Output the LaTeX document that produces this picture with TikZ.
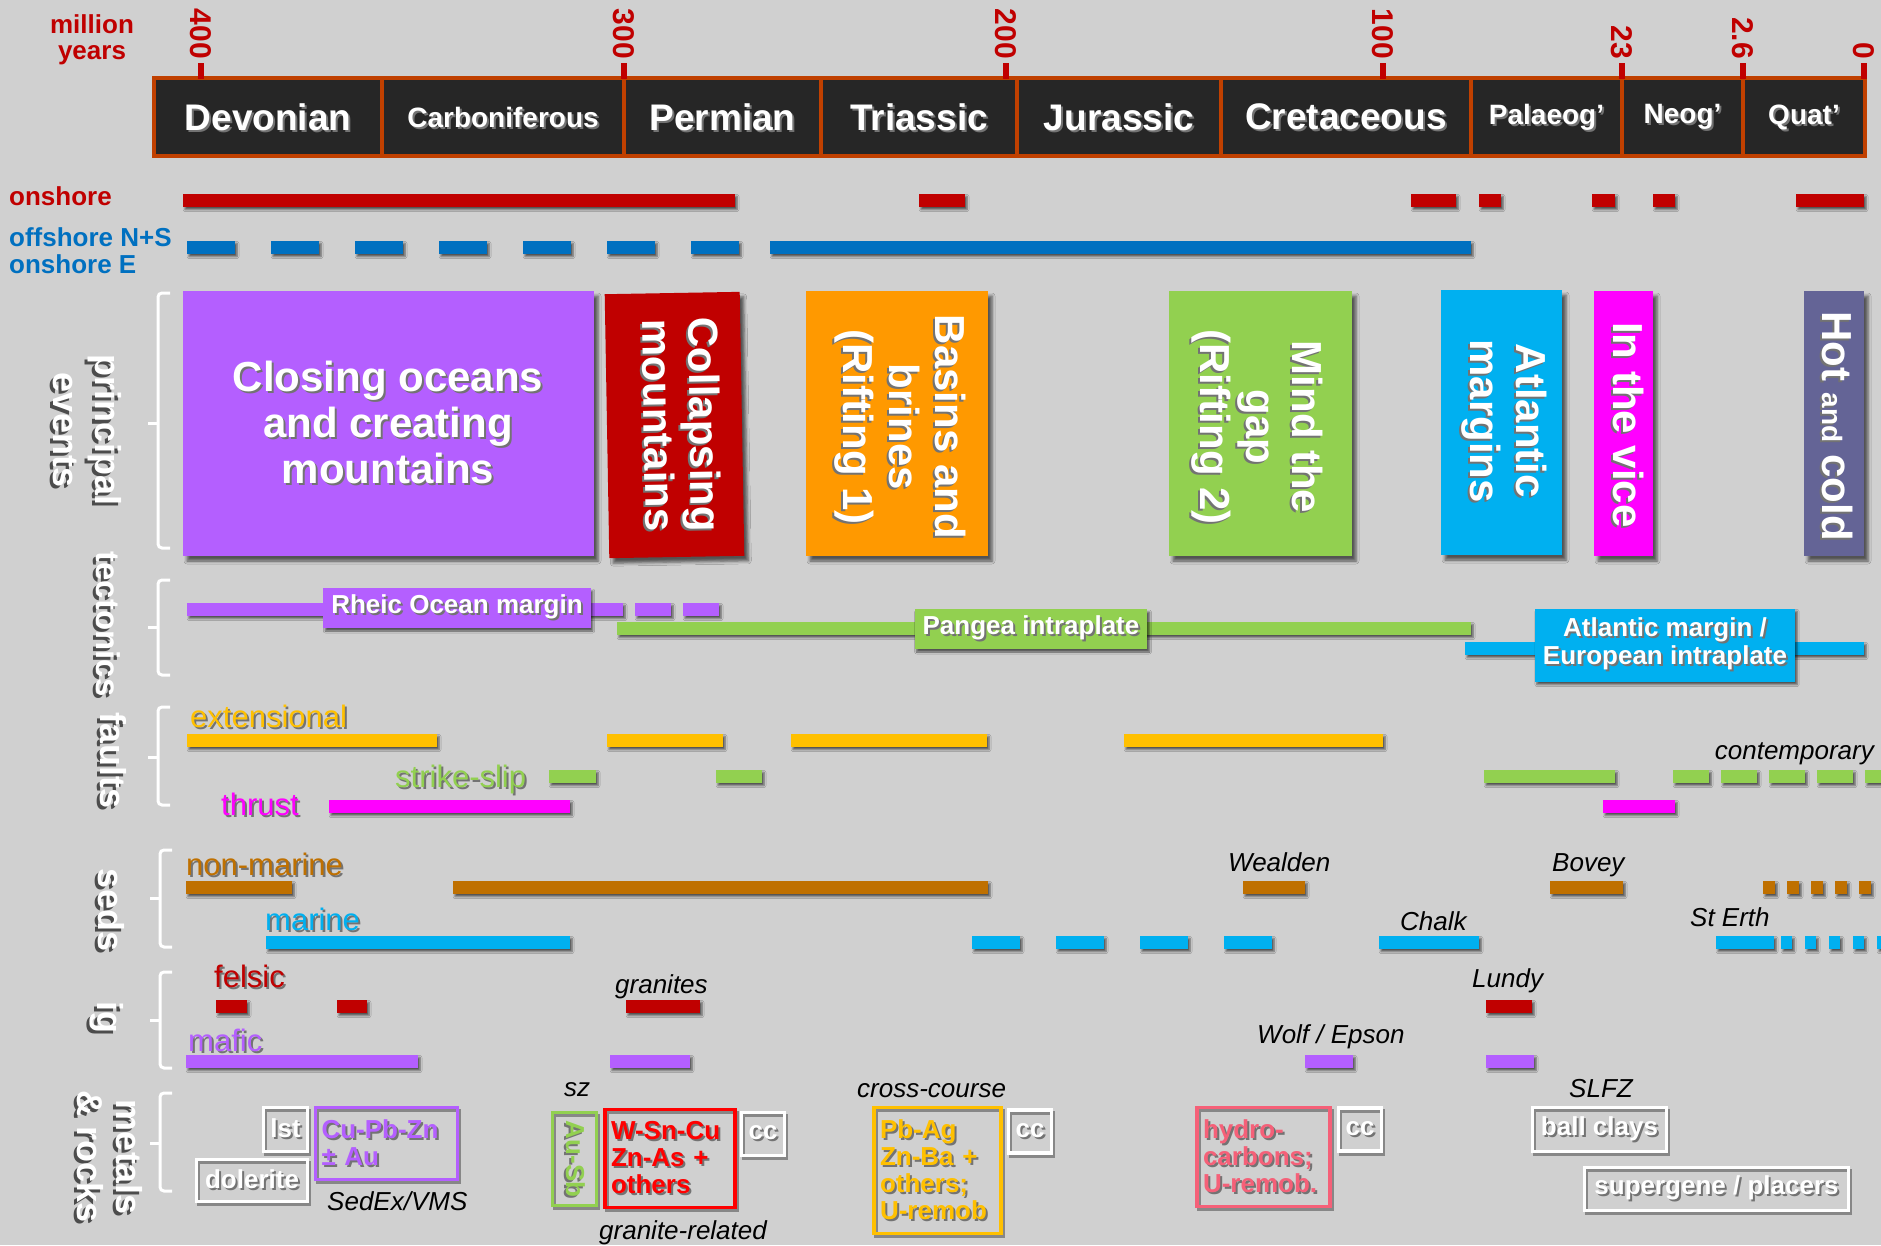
\documentclass[tikz,border=0pt]{standalone}
\usepackage{fontspec}
\setmainfont{Liberation Sans}
\usetikzlibrary{shadows.blur}
\definecolor{bg}{RGB}{208,208,208}
\definecolor{hdr}{RGB}{38,38,38}
\definecolor{hdrline}{RGB}{192,64,0}
\definecolor{myred}{RGB}{192,0,0}
\definecolor{offblue}{RGB}{0,112,192}
\definecolor{purp}{RGB}{180,95,255}
\definecolor{orng}{RGB}{255,153,0}
\definecolor{grn}{RGB}{146,208,80}
\definecolor{cyn}{RGB}{0,176,240}
\definecolor{mgt}{RGB}{255,0,255}
\definecolor{slate}{RGB}{100,100,150}
\definecolor{ylw}{RGB}{255,192,0}
\definecolor{brn}{RGB}{191,112,0}
\definecolor{pnk}{RGB}{245,96,120}
\definecolor{boxred}{RGB}{255,0,0}
\newcommand\fsz[2]{\fontsize{#1}{#2}\selectfont}
\newcommand\tsh[2][black!55]{\leavevmode\rlap{\kern2pt\raisebox{-2pt}{\textcolor{#1}{#2}}}#2}
\newcommand\ssh[1]{\leavevmode\rlap{\kern3pt\raisebox{-3pt}{\textcolor{black!70}{#1}}}#1}
\newcommand\tseg[4]{\fill[#1,sh] (#2,#4-6.5) rectangle (#3,#4+6.5);}
\newcommand\secbrk[4]{\draw[brkt] (#1+12,#2) -- (#1,#2) -- (#1,#4) -- (#1+12,#4); \draw[brkt] (#1,#3) -- (#1-10,#3);}
\begin{document}
\begin{tikzpicture}[x=1pt,y=-1pt,
  sh/.style={blur shadow={shadow xshift=2pt,shadow yshift=-3pt,shadow opacity=60,shadow blur radius=2pt}},
  evsh/.style={blur shadow={shadow xshift=4pt,shadow yshift=-5pt,shadow opacity=60,shadow blur radius=3pt}},
  period/.style={draw=hdrline,line width=4pt,fill=hdr},
  tick/.style={rotate=-90,anchor=east,inner sep=0pt,text=myred,font=\bfseries\fsz{30}{30}},
  lbl/.style={anchor=base west,inner sep=0pt},
  sec/.style={rotate=-90,align=center,inner sep=0pt,text=white,font=\bfseries\fsz{36}{42}},
  brkt/.style={draw=white,line width=3pt,rounded corners=4pt},
  evt/.style={text=white,align=center,inner sep=0pt,font=\bfseries\fsz{42}{46}},
  tag/.style={sh,text=white,align=center,minimum height=40pt,inner xsep=8pt,inner ysep=0pt,font=\bfseries\fsz{26}{28}},
  row/.style={lbl,font=\fsz{31}{31}},
  itl/.style={lbl,font=\itshape\fsz{26}{26}},
  obox/.style={draw,line width=3.5pt,inner sep=0pt,font=\bfseries\fsz{26}{27},preaction={draw=black,draw opacity=.35,transform canvas={xshift=2pt,yshift=-3pt}}}]
\useasboundingbox (0,0) rectangle (1881,1245);
\fill[bg] (0,0) rectangle (1881,1245);

\foreach \xa/\xb/\nm/\fz [count=\i] in {154/382/Devonian/37,382/624/Carboniferous/28,624/821/Permian/37,821/1017/Triassic/37,1017/1221/Jurassic/37,1221/1471/Cretaceous/37,1471/1622/Palaeog’/28,1622/1743/Neog’/28,1743/1865/Quat’/28}
{\draw[period] (\xa,78) rectangle (\xb,156);
 \node[text=white,font=\bfseries\fsz{\fz}{\fz}] (per\i) at ({(\xa+\xb)/2},118) {\tsh{\nm}};}
\foreach \x/\t [count=\i] in {201/400,624/300,1006/200,1383/100,1622/23,1743/2.6,1864/0}
{\fill[myred] (\x-3,63) rectangle (\x+3,79);
 \node[tick] (tk\i) at (\x,59) {\t};}
\node[lbl,anchor=base,text=myred,font=\bfseries\fsz{26}{26}] (mil1) at (92,33) {million};
\node[lbl,anchor=base,text=myred,font=\bfseries\fsz{26}{26}] (mil2) at (92,59) {years};

\node[lbl,text=myred,font=\bfseries\fsz{26}{26}] (onsh) at (9,205) {onshore};
\node[lbl,text=offblue,font=\bfseries\fsz{26}{26}] (offs1) at (9,246) {offshore N+S};
\node[lbl,text=offblue,font=\bfseries\fsz{26}{26}] (offs2) at (9,273) {onshore E};
\tseg{myred}{183}{735}{200}
\tseg{myred}{919}{965}{200}
\tseg{myred}{1411}{1456}{200}
\tseg{myred}{1479}{1501}{200}
\tseg{myred}{1592}{1615}{200}
\tseg{myred}{1653}{1675}{200}
\tseg{myred}{1796}{1864}{200}
\foreach \xa in {187,271,...,691} {\tseg{offblue}{\xa}{\xa+48}{247}}
\tseg{offblue}{770}{1471}{247}

\secbrk{158}{293}{423}{548}
\secbrk{158}{580}{627}{675}
\secbrk{158}{707}{757}{805}
\secbrk{160}{850}{898}{947}
\secbrk{160}{972}{1020}{1068}
\secbrk{160}{1093}{1143}{1191}
\node[sec] (secpe) at (86,430) {\ssh{principal}\\\ssh{events}};
\node[sec,font=\bfseries\fsz{33}{33}] (sectec) at (107,624) {\ssh{tectonics}};
\node[sec] (secfa) at (112,760) {\ssh{faults}};
\node[sec] (secse) at (110,910) {\ssh{seds}};
\node[sec] (secig) at (105,1017) {\ssh{ig}};
\node[sec,font=\bfseries\fsz{36}{39}] (secme) at (108,1157) {\ssh{metals}\\\ssh{\& rocks}};

\fill[purp,evsh] (183,291) rectangle (594,556);
\node[evt] (ev1) at (388,423) {\tsh{Closing oceans}\\\tsh{and creating}\\\tsh{mountains}};
\fill[myred,evsh,rotate around={1:(675,425)}] (607,293) rectangle (742,557);
\node[evt,rotate=-89] (ev2) at (681,425) {\tsh{Collapsing}\\\tsh{mountains}};
\fill[orng,evsh] (806,291) rectangle (988,556);
\node[evt,rotate=-90] (ev3) at (899,427) {\tsh{Basins and}\\\tsh{brines}\\\tsh{(Rifting 1)}};
\fill[grn,evsh] (1169,291) rectangle (1352,556);
\node[evt,rotate=-90] (ev4) at (1256,427) {\tsh{Mind the}\\\tsh{gap}\\\tsh{(Rifting 2)}};
\fill[cyn,evsh] (1441,290) rectangle (1562,555);
\node[evt,rotate=-90] (ev5) at (1503,421) {\tsh{Atlantic}\\\tsh{margins}};
\fill[mgt,evsh] (1594,291) rectangle (1653,556);
\node[evt,rotate=-90] (ev6) at (1627,425) {\tsh{In the vice}};
\fill[slate,evsh] (1804,291) rectangle (1864,556);
\node[evt,rotate=-90] (ev7) at (1836,426) {\tsh{Hot {\fsz{28}{28}and} cold}};

\tseg{purp}{187}{623}{609}
\tseg{purp}{635}{671}{609}
\tseg{purp}{683}{719}{609}
\tseg{grn}{617}{1471}{628}
\tseg{cyn}{1465}{1864}{648}
\node[tag,fill=purp] (rheic) at (457,608) {\tsh{Rheic Ocean margin}};
\node[tag,fill=grn] (pangea) at (1031,629) {\tsh{Pangea intraplate}};
\node[tag,fill=cyn,minimum height=73pt] (atlm) at (1665,645) {\tsh{Atlantic margin /}\\\tsh{European intraplate}};

\node[row,text=ylw] (ext) at (190,727) {\tsh{extensional}};
\node[row,text=grn] (ss) at (395,787) {\tsh{strike-slip}};
\node[row,text=mgt] (thr) at (221,815) {\tsh{thrust}};
\node[itl,anchor=base east] (cont) at (1874,759) {contemporary};
\tseg{ylw}{187}{437}{740}
\tseg{ylw}{607}{723}{740}
\tseg{ylw}{791}{987}{740}
\tseg{ylw}{1124}{1383}{740}
\tseg{grn}{549}{596}{776}
\tseg{grn}{716}{762}{776}
\tseg{grn}{1484}{1615}{776}
\foreach \xa in {1673,1721,...,1866} {\tseg{grn}{\xa}{\xa+36}{776}}
\tseg{mgt}{329}{570}{806}
\tseg{mgt}{1603}{1675}{806}

\node[row,text=brn] (nonm) at (186,875) {\tsh{non-marine}};
\node[row,text=cyn] (mar) at (265,930) {\tsh{marine}};
\node[itl] (weal) at (1228,871) {Wealden};
\node[itl] (bovey) at (1552,871) {Bovey};
\node[itl] (chalk) at (1400,930) {Chalk};
\node[itl] (sterth) at (1690,926) {St Erth};
\tseg{brn}{186}{292}{887}
\tseg{brn}{453}{988}{887}
\tseg{brn}{1243}{1305}{887}
\tseg{brn}{1550}{1623}{887}
\foreach \xa in {1763,1787,...,1860} {\tseg{brn}{\xa}{\xa+12}{887}}
\tseg{cyn}{266}{570}{942}
\foreach \xa in {972,1056,1140,1224} {\tseg{cyn}{\xa}{\xa+48}{942}}
\tseg{cyn}{1379}{1479}{942}
\tseg{cyn}{1716}{1774}{942}
\foreach \xa in {1781,1805,...,1878} {\tseg{cyn}{\xa}{\xa+11}{942}}

\node[row,text=myred] (fel) at (214,987) {\tsh{felsic}};
\node[row,text=purp] (maf) at (188,1051) {\tsh{mafic}};
\node[itl] (gran) at (615,993) {granites};
\node[itl] (lundy) at (1472,987) {Lundy};
\node[itl] (wolf) at (1257,1043) {Wolf / Epson};
\tseg{myred}{216}{247}{1006}
\tseg{myred}{337}{367}{1006}
\tseg{myred}{626}{700}{1006}
\tseg{myred}{1486}{1532}{1006}
\tseg{purp}{186}{418}{1061}
\tseg{purp}{610}{690}{1061}
\tseg{purp}{1305}{1353}{1061}
\tseg{purp}{1486}{1534}{1061}

\node[itl] (sz) at (564,1096) {sz};
\node[itl] (xc) at (857,1097) {cross-course};
\node[itl] (slfz) at (1569,1097) {SLFZ};
\node[itl] (sedex) at (327,1210) {SedEx/VMS};
\node[itl] (granrel) at (599,1239) {granite-related};
\node[obox,draw=white,text=white,minimum width=44pt,minimum height=44pt] (lst) at (285.5,1129.5) {\tsh{lst}};
\node[obox,draw=white,text=white,minimum width=111pt,minimum height=42pt] (dol) at (252,1180.5) {\tsh{dolerite}};
\node[obox,draw=purp,text=purp,text width=130pt,align=left,inner xsep=6pt,minimum height=72pt] (cupb) at (386.5,1143.5) {\tsh{Cu-Pb-Zn}\\\tsh{± Au}};
\node[obox,draw=grn,minimum width=44pt,minimum height=93pt] (ausb) at (574.5,1159) {};
\node[rotate=-90,text=grn,font=\bfseries\fsz{26}{26}] (ausbt) at (ausb) {\tsh{Au-Sb}};
\node[obox,draw=boxred,text=boxred,text width=118pt,align=left,inner xsep=6pt,minimum height=98pt] (wsn) at (670,1158.5) {\tsh{W-Sn-Cu}\\\tsh{Zn-As +}\\\tsh{others}};
\node[obox,draw=white,text=white,minimum width=43pt,minimum height=43pt] (cc1) at (763,1134) {\tsh{cc}};
\node[obox,draw=ylw,text=ylw,text width=115pt,align=left,inner xsep=6pt,minimum height=126pt] (pbag) at (937.5,1170.5) {\tsh{Pb-Ag}\\\tsh{Zn-Ba +}\\\tsh{others;}\\\tsh{U-remob}};
\node[obox,draw=white,text=white,minimum width=43pt,minimum height=43pt] (cc2) at (1030,1131.5) {\tsh{cc}};
\node[obox,draw=pnk,text=pnk,text width=121pt,align=left,inner xsep=6pt,minimum height=99pt] (hyd) at (1263.5,1157) {\tsh{hydro-}\\\tsh{carbons;}\\\tsh{U-remob.}};
\node[obox,draw=white,text=white,minimum width=43pt,minimum height=43pt] (cc3) at (1360,1129.5) {\tsh{cc}};
\node[obox,draw=white,text=white,minimum width=134pt,minimum height=44pt] (ball) at (1599.5,1129.5) {\tsh{ball clays}};
\node[obox,draw=white,text=white,minimum width=264pt,minimum height=43pt] (superg) at (1716.5,1189) {\tsh{supergene / placers}};
\end{tikzpicture}
\end{document}
